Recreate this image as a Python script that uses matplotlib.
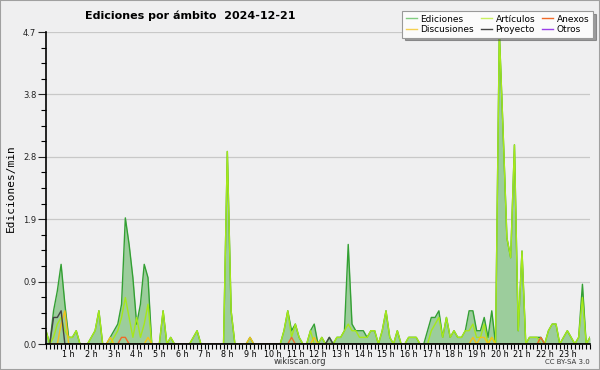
import numpy as np
import matplotlib
matplotlib.use("Agg")
import matplotlib.pyplot as plt
from matplotlib.lines import Line2D
from matplotlib.patches import Rectangle
from matplotlib.ticker import MultipleLocator, FixedLocator, FuncFormatter

# ediciones/min, un valor cada 10 minutos (fila = una hora), último = 24 h
ediciones = [
    0.2, 0.0, 0.5, 0.8, 1.2, 0.6,
    0.1, 0.1, 0.2, 0.0, 0.0, 0.0,
    0.1, 0.2, 0.5, 0.0, 0.0, 0.1,
    0.2, 0.3, 0.6, 1.9, 1.5, 1.0,
    0.3, 0.6, 1.2, 1.0, 0.0, 0.0,
    0.0, 0.5, 0.0, 0.1, 0.0, 0.0,
    0.0, 0.0, 0.0, 0.1, 0.2, 0.0,
    0.0, 0.0, 0.0, 0.0, 0.0, 0.0,
    2.9, 0.5, 0.0, 0.0, 0.0, 0.0,
    0.1, 0.0, 0.0, 0.0, 0.0, 0.0,
    0.0, 0.0, 0.0, 0.2, 0.5, 0.2,
    0.3, 0.1, 0.0, 0.0, 0.2, 0.3,
    0.0, 0.1, 0.0, 0.1, 0.0, 0.1,
    0.1, 0.2, 1.5, 0.3, 0.2, 0.2,
    0.2, 0.1, 0.2, 0.2, 0.0, 0.2,
    0.5, 0.1, 0.0, 0.2, 0.0, 0.0,
    0.1, 0.1, 0.1, 0.0, 0.0, 0.2,
    0.4, 0.4, 0.5, 0.1, 0.4, 0.1,
    0.2, 0.1, 0.1, 0.2, 0.5, 0.5,
    0.2, 0.2, 0.4, 0.1, 0.5, 0.0,
    4.7, 3.2, 1.6, 1.3, 3.0, 0.2,
    1.4, 0.0, 0.1, 0.1, 0.1, 0.1,
    0.0, 0.2, 0.3, 0.3, 0.0, 0.1,
    0.2, 0.1, 0.0, 0.1, 0.9, 0.0,
    0.1,
]

articulos = [
    0.2, 0.0, 0.1, 0.3, 0.4, 0.2,
    0.1, 0.1, 0.2, 0.0, 0.0, 0.0,
    0.1, 0.2, 0.5, 0.0, 0.0, 0.0,
    0.1, 0.2, 0.4, 0.7, 0.4, 0.1,
    0.4, 0.1, 0.3, 0.6, 0.0, 0.0,
    0.0, 0.5, 0.0, 0.1, 0.0, 0.0,
    0.0, 0.0, 0.0, 0.1, 0.2, 0.0,
    0.0, 0.0, 0.0, 0.0, 0.0, 0.0,
    2.9, 0.5, 0.0, 0.0, 0.0, 0.0,
    0.0, 0.0, 0.0, 0.0, 0.0, 0.0,
    0.0, 0.0, 0.0, 0.2, 0.5, 0.1,
    0.3, 0.1, 0.0, 0.0, 0.2, 0.0,
    0.0, 0.1, 0.0, 0.0, 0.0, 0.1,
    0.1, 0.2, 0.3, 0.2, 0.2, 0.1,
    0.1, 0.1, 0.2, 0.2, 0.0, 0.2,
    0.5, 0.1, 0.0, 0.2, 0.0, 0.0,
    0.1, 0.1, 0.1, 0.0, 0.0, 0.0,
    0.2, 0.3, 0.4, 0.1, 0.4, 0.1,
    0.2, 0.1, 0.1, 0.2, 0.2, 0.3,
    0.1, 0.1, 0.3, 0.0, 0.1, 0.0,
    4.7, 3.2, 1.6, 1.3, 3.0, 0.2,
    1.4, 0.0, 0.1, 0.1, 0.1, 0.0,
    0.0, 0.2, 0.3, 0.3, 0.0, 0.1,
    0.2, 0.1, 0.0, 0.1, 0.7, 0.0,
    0.1,
]

# series casi vacías: posición (bloque de 10 min) y valor
discusiones_idx = [4, 5, 17, 27, 54, 71, 113, 115, 116, 118]
discusiones_val = [0.3, 0.5, 0.1, 0.1, 0.1, 0.1, 0.1, 0.1, 0.1, 0.1]
proyecto_idx = [2, 3, 4, 75]
proyecto_val = [0.4, 0.4, 0.5, 0.1]
anexos_idx = [20, 21, 65, 131]
anexos_val = [0.1, 0.1, 0.1, 0.1]

y_max = 4.7
hour_labels = [f"{h} h" for h in range(1, 24)]

BG = "#efeff0"
C_ED = "#33a033"
C_FILL = "#9ccd9c"
C_ART = "#a6e81a"
C_DISC = "#f2c21a"
C_ANX = "#f06a28"
C_PROY = "#444444"
C_OTR = "#9a40e8"


def sparse(idx, val, n):
    arr = np.zeros(n)
    arr[idx] = val
    return arr


n = len(ediciones)
x = np.arange(n) / 6.0
discusiones = sparse(discusiones_idx, discusiones_val, n)
proyecto = sparse(proyecto_idx, proyecto_val, n)
anexos = sparse(anexos_idx, anexos_val, n)

fig = plt.figure(figsize=(6, 3.7), dpi=100, facecolor=BG)
ax = fig.add_axes([46 / 600, 1 - 344 / 370, 544 / 600, 312 / 370])
ax.set_facecolor(BG)

ax.fill_between(x, 0, ediciones, color=C_FILL, lw=0, zorder=1)
ax.plot(x, ediciones, color=C_ED, lw=1.0, zorder=1.5)
ax.plot(x, articulos, color=C_ART, lw=1.0, zorder=1.6)
ax.plot(x, discusiones, color=C_DISC, lw=1.0, zorder=1.7)
ax.plot(x, anexos, color=C_ANX, lw=1.0, zorder=1.7)
ax.plot(x, proyecto, color=C_PROY, lw=1.0, zorder=1.8)

ax.set_xlim(0, 24)
ax.set_ylim(0, y_max)

# eje y: 5 divisiones con 4 subdivisiones
ax.yaxis.set_major_locator(FixedLocator(np.linspace(0, y_max, 6)))
ax.yaxis.set_minor_locator(FixedLocator(np.linspace(0, y_max, 21)))
ax.yaxis.set_major_formatter(FuncFormatter(lambda v, p: f"{v:.1f}"))
ax.xaxis.set_major_locator(FixedLocator(range(1, 24)))
ax.xaxis.set_major_formatter(FuncFormatter(lambda v, p: hour_labels[int(round(v)) - 1]))
ax.xaxis.set_minor_locator(MultipleLocator(1 / 6))

ax.tick_params(axis="y", which="major", length=6, width=0.8, labelsize=6, pad=1, colors="#222222")
ax.tick_params(axis="y", which="minor", length=3.5, width=0.8)
ax.tick_params(axis="x", which="both", length=3.5, width=0.8, labelsize=5.8, pad=0.5)

for s in ["top", "right"]:
    ax.spines[s].set_visible(False)
for s in ["left", "bottom"]:
    ax.spines[s].set_linewidth(1.2)
    ax.spines[s].set_zorder(3)

ax.grid(True, axis="y", which="major", color="#c8c8c8", lw=0.9, zorder=0)
ax.set_axisbelow(True)

ax.set_ylabel("Ediciones/min", family="DejaVu Sans Mono", fontsize=8, labelpad=5)

fig.text(85 / 600, 1 - 16 / 370, "Ediciones por ámbito  2024-12-21",
         fontsize=8, fontweight="bold", va="center", ha="left")
fig.text(300 / 600, 1 - 362 / 370, "wikiscan.org", fontsize=6, ha="center", va="center", color="#333333")
fig.text(590 / 600, 1 - 362 / 370, "CC BY-SA 3.0", fontsize=5, ha="right", va="center", color="#333333")

handles = [
    Line2D([], [], color="#80cc80", lw=1), Line2D([], [], color="#f5d050", lw=1),
    Line2D([], [], color="#c8f060", lw=1), Line2D([], [], color=C_PROY, lw=1),
    Line2D([], [], color=C_ANX, lw=1), Line2D([], [], color=C_OTR, lw=1),
]
labels = ["Ediciones", "Discusiones", "Artículos", "Proyecto", "Anexos", "Otros"]
leg = fig.legend(handles, labels, ncol=3, loc="upper right",
                 bbox_to_anchor=(593 / 600, 1 - 11 / 370), fontsize=6.5,
                 frameon=True, fancybox=False, shadow=True, handlelength=1.2,
                 handletextpad=0.4, columnspacing=0.8, labelspacing=0.15,
                 borderpad=0.4, borderaxespad=0)
leg.get_frame().set_facecolor("#fbfbfb")
leg.get_frame().set_edgecolor("#999999")
leg.get_frame().set_linewidth(0.8)

fig.patches.append(Rectangle((0, 0), 1, 1, transform=fig.transFigure, fill=False,
                             edgecolor="#a0a0a0", lw=1.5))

fig.savefig("out.png", dpi=100, facecolor=BG)
